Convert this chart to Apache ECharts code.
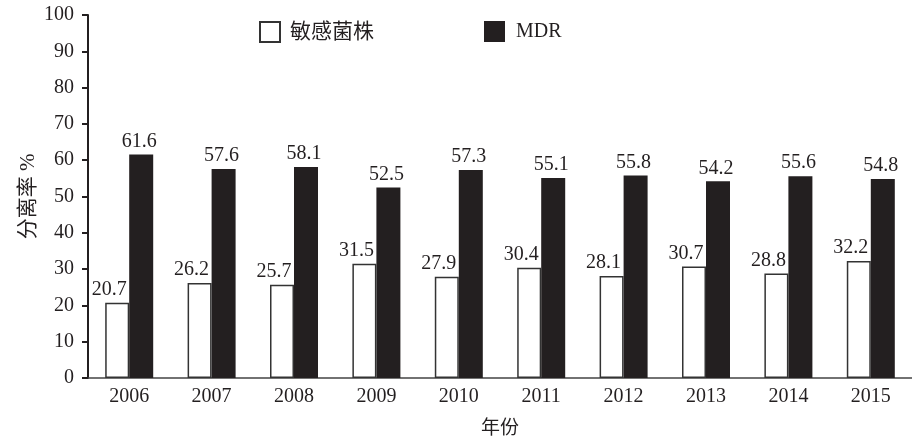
<!DOCTYPE html>
<html>
<head>
<meta charset="utf-8">
<script src="https://cdn.jsdelivr.net/npm/echarts@6/dist/echarts.min.js"></script>
<style>html,body{margin:0;padding:0;background:#fff}#c{width:912px;height:446px}</style>
</head>
<body>
<div id="c"></div>
<script>
const years = ['2006','2007','2008','2009','2010','2011','2012','2013','2014','2015'];
const sensitive = [20.7, 26.2, 25.7, 31.5, 27.9, 30.4, 28.1, 30.7, 28.8, 32.2];
const mdr = [61.6, 57.6, 58.1, 52.5, 57.3, 55.1, 55.8, 54.2, 55.6, 54.8];
const yTicks = { min: 0, max: 100, interval: 10 };

const FONT = '"Liberation Serif", "Noto Sans CJK SC", serif';
const INK = '#231f20';
const chart = echarts.init(document.getElementById('c'), null, { renderer: 'canvas' });
chart.setOption({
  animation: false,
  backgroundColor: '#fff',
  textStyle: { fontFamily: FONT, color: INK },
  legend: [
    { data: ['敏感菌株'], left: 254, top: 16, itemWidth: 20, itemHeight: 20, icon: 'rect',
      textStyle: { fontSize: 21, fontFamily: FONT, color: INK, padding: [0,0,0,5] } },
    { data: ['MDR'], left: 479, top: 16, itemWidth: 21, itemHeight: 21, icon: 'rect',
      textStyle: { fontSize: 20, fontFamily: FONT, color: INK, padding: [0,0,0,6] } }
  ],
  grid: { left: 88, top: 15, bottom: 68, right: -7, containLabel: false },
  xAxis: {
    type: 'category', data: years,
    name: '年份', nameLocation: 'middle', nameGap: 42, nameMoveOverlap: false,
    nameTextStyle: { fontSize: 19, fontFamily: FONT, color: INK },
    axisLine: { lineStyle: { color: '#444', width: 1.5 } },
    axisTick: { inside: true, length: 8, lineStyle: { color: INK, width: 1.5 } },
    axisLabel: { fontSize: 20, fontFamily: FONT, color: INK, margin: 9 }
  },
  yAxis: {
    type: 'value', min: yTicks.min, max: yTicks.max, interval: yTicks.interval,
    name: '分离率 %', nameLocation: 'middle', nameRotate: 90, nameGap: 49, nameMoveOverlap: false,
    nameTextStyle: { fontSize: 21, fontFamily: FONT, color: INK },
    axisLine: { show: true, lineStyle: { color: INK, width: 2 } },
    axisTick: { show: true, inside: false, length: 6, lineStyle: { color: INK, width: 2 } },
    axisLabel: { fontSize: 20, fontFamily: FONT, color: INK, margin: 14 },
    splitLine: { show: false }
  },
  series: [
    { name: '敏感菌株', type: 'bar', data: sensitive, barWidth: 24, barGap: '0%', zlevel: 1,
      itemStyle: { color: '#fff', borderColor: '#333', borderWidth: 1.5 },
      label: { show: true, position: 'top', distance: 3, offset: [-8, 0], fontSize: 20, fontFamily: FONT, color: INK } },
    { name: 'MDR', type: 'bar', data: mdr, barWidth: 24, barGap: '0%',
      itemStyle: { color: INK },
      label: { show: true, position: 'top', distance: 3, offset: [-2, 0], fontSize: 20, fontFamily: FONT, color: INK } }
  ]
});
</script>
</body>
</html>
